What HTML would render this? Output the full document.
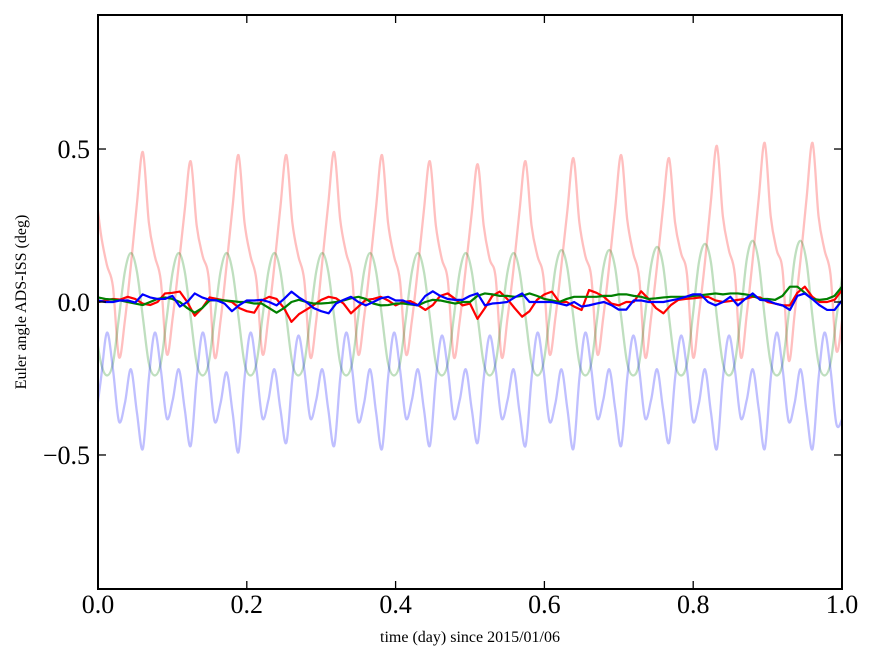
<!DOCTYPE html>
<html><head><meta charset="utf-8"><style>
html,body{margin:0;padding:0;background:#fff;}
svg{display:block;}
text{font-family:"Liberation Serif",serif;fill:#000;}
</style></head><body>
<svg id="chart" width="875" height="662" viewBox="0 0 875 662" xmlns="http://www.w3.org/2000/svg">
<defs><clipPath id="plotclip"><rect x="98" y="15" width="744" height="574"/></clipPath></defs>
<rect x="0" y="0" width="875" height="662" fill="#fff"/>
<g id="series" clip-path="url(#plotclip)"></g>
<g id="axes"></g>
<text x="470" y="642" font-size="16" text-anchor="middle">time (day) since 2015/01/06</text>
<text x="0" y="0" font-size="16" text-anchor="middle" transform="translate(26,302) rotate(-90)">Euler angle ADS-ISS (deg)</text>
</svg>
<script>
// ---- data ----
const xTicks = [0.0, 0.2, 0.4, 0.6, 0.8, 1.0];
const xTickLabels = ["0.0", "0.2", "0.4", "0.6", "0.8", "1.0"];
const yTicks = [-0.5, 0.0, 0.5];
const yTickLabels = ["\u22120.5", "0.0", "0.5"];
const lightStep = 0.008037;
const lightStart = -0.004;
const redLight = [
.38,.22,.12,.05,-.18,-.06,.12,.32,
.49,.26,.15,.07,-.17,-.05,.12,.30,
.46,.25,.15,.08,-.18,-.06,.12,.31,
.48,.26,.15,.07,-.17,-.05,.12,.31,
.48,.26,.15,.07,-.18,-.06,.13,.32,
.49,.27,.16,.08,-.17,-.05,.12,.31,
.48,.26,.15,.07,-.17,-.06,.11,.30,
.46,.25,.14,.07,-.18,-.06,.11,.29,
.45,.25,.14,.08,-.18,-.05,.11,.30,
.46,.25,.15,.08,-.17,-.05,.12,.30,
.47,.26,.15,.08,-.17,-.05,.12,.31,
.48,.27,.16,.08,-.18,-.05,.12,.31,
.47,.26,.16,.09,-.18,-.04,.13,.33,
.51,.28,.17,.09,-.18,-.04,.14,.34,
.52,.28,.17,.10,-.19,-.04,.14,.34,
.52,.28,.17,.09,-.16,-.05];
const greenLight = [
-.08,-.20,-.24,-.20,-.05,.10,.16,.10,
-.05,-.20,-.24,-.20,-.05,.10,.16,.10,
-.05,-.20,-.24,-.20,-.05,.10,.16,.10,
-.05,-.20,-.24,-.20,-.05,.10,.16,.10,
-.05,-.20,-.24,-.20,-.05,.10,.16,.10,
-.05,-.20,-.24,-.20,-.05,.10,.16,.10,
-.05,-.20,-.24,-.20,-.05,.10,.16,.10,
-.05,-.20,-.24,-.20,-.05,.10,.16,.10,
-.05,-.20,-.24,-.20,-.05,.10,.16,.10,
-.05,-.20,-.24,-.20,-.05,.11,.17,.11,
-.05,-.20,-.24,-.20,-.05,.11,.17,.11,
-.05,-.20,-.24,-.20,-.04,.12,.18,.12,
-.05,-.20,-.24,-.20,-.04,.13,.19,.13,
-.05,-.20,-.24,-.20,-.04,.14,.20,.13,
-.05,-.20,-.24,-.20,-.04,.14,.20,.13,
-.05,-.20,-.24,-.20,-.05,.09];
const blueLight = [
-.40,-.25,-.10,-.22,-.39,-.33,-.22,-.36,
-.48,-.25,-.10,-.22,-.38,-.32,-.22,-.35,
-.47,-.25,-.10,-.22,-.39,-.33,-.23,-.36,
-.49,-.25,-.10,-.22,-.38,-.32,-.22,-.35,
-.46,-.25,-.11,-.22,-.38,-.32,-.22,-.35,
-.47,-.25,-.10,-.22,-.39,-.33,-.22,-.36,
-.48,-.25,-.10,-.22,-.38,-.32,-.22,-.35,
-.47,-.25,-.11,-.22,-.38,-.32,-.22,-.35,
-.46,-.25,-.11,-.22,-.38,-.32,-.22,-.36,
-.47,-.25,-.10,-.22,-.39,-.33,-.22,-.35,
-.48,-.25,-.10,-.22,-.38,-.32,-.22,-.35,
-.47,-.25,-.11,-.22,-.38,-.32,-.22,-.35,
-.46,-.25,-.11,-.22,-.39,-.33,-.22,-.36,
-.48,-.25,-.11,-.22,-.38,-.32,-.22,-.35,
-.48,-.25,-.10,-.22,-.39,-.33,-.22,-.36,
-.48,-.25,-.10,-.22,-.40,-.38];
const darkStep = 0.01;
const redDark = [0,.005,.01,.008,.017,.01,-.005,-.01,0,.028,.03,.034,0,-.045,-.02,.015,.01,.005,0,-.02,-.03,-.035,.005,.017,.01,-.02,-.065,-.04,-.025,-.01,.007,.017,.012,-.005,-.037,-.015,.007,.01,.017,.005,-.011,0,.003,-.01,-.026,-.01,.02,.028,.01,-.011,-.005,-.055,-.02,.02,.034,.01,-.02,-.048,-.03,.007,.025,.034,0,0,-.015,-.026,.039,.03,.017,-.005,-.011,0,0,.035,.01,-.02,-.037,-.01,.007,.01,.012,.015,.017,.005,0,.003,.007,.01,.017,.015,0,-.005,-.011,-.011,.03,.05,.017,0,0,.007,.039];
const greenDark = [.015,.01,.008,.005,0,-.005,-.01,0,.01,.015,.01,0,-.02,-.035,-.02,.005,.007,.005,.003,0,0,-.005,-.005,-.02,-.035,-.02,0,.007,0,-.005,-.005,-.003,0,.005,.012,.017,.01,-.005,-.011,-.01,-.005,-.005,-.008,-.011,0,.007,.005,0,-.005,0,0,.02,.028,.025,.02,.02,.017,.02,.028,.02,.01,.005,0,.01,.017,.017,.017,.017,.02,.02,.025,.025,.02,.017,.01,.012,.015,.017,.017,.017,.02,.022,.025,.028,.025,.028,.028,.025,.02,.01,.01,.007,.02,.05,.05,.03,.01,.007,.01,.02,.05];
const blueDark = [.005,0,0,.005,.005,-.002,.025,.015,.01,.01,.02,-.015,0,.028,.015,.007,.005,-.005,-.03,-.01,.005,.005,.007,0,-.011,.01,.034,.015,0,-.02,-.03,-.037,-.005,.007,.017,0,-.011,0,.012,.017,.005,.005,-.005,-.011,.02,.035,.02,.01,.007,.007,.02,.028,-.011,-.005,-.003,0,.015,.028,0,0,0,0,-.005,-.011,0,-.015,-.011,-.005,0,-.01,-.025,-.025,.005,.005,0,0,0,.005,.01,.017,.025,.025,0,-.011,0,.017,-.011,.01,.028,.007,.005,-.005,-.011,-.026,.02,.028,.01,-.011,-.026,-.026,.005];

// ---- axes functions ----
const X0 = 98, X1 = 842, Y0 = 15, Y1 = 589;
const xMin = 0, xMax = 1, yMin = -0.938, yMax = 0.938;
function xScale(v){ return X0 + (v - xMin) / (xMax - xMin) * (X1 - X0); }
function yScale(v){ return Y1 - (v - yMin) / (yMax - yMin) * (Y1 - Y0); }
const NS = "http://www.w3.org/2000/svg";

function smoothPath(pts){
  let d = "M" + pts[0][0].toFixed(2) + "," + pts[0][1].toFixed(2);
  for (let i = 0; i < pts.length - 1; i++){
    const p0 = pts[Math.max(0, i-1)], p1 = pts[i], p2 = pts[i+1], p3 = pts[Math.min(pts.length-1, i+2)];
    const c1x = p1[0] + (p2[0]-p0[0])/6, c1y = p1[1] + (p2[1]-p0[1])/6;
    const c2x = p2[0] - (p3[0]-p1[0])/6, c2y = p2[1] - (p3[1]-p1[1])/6;
    d += " C" + c1x.toFixed(2) + "," + c1y.toFixed(2) + " " + c2x.toFixed(2) + "," + c2y.toFixed(2) + " " + p2[0].toFixed(2) + "," + p2[1].toFixed(2);
  }
  return d;
}
function polyPath(pts){
  return "M" + pts.map(p => p[0].toFixed(2) + "," + p[1].toFixed(2)).join(" L");
}
const seriesG = document.getElementById("series");
function drawSeries(values, start, step, color, width, opacity, smooth, name){
  const pts = values.map((v, i) => [xScale(start + i*step), yScale(v)]);
  const path = document.createElementNS(NS, "path");
  path.setAttribute("d", smooth ? smoothPath(pts) : polyPath(pts));
  path.setAttribute("fill", "none");
  path.setAttribute("stroke", color);
  path.setAttribute("stroke-width", width);
  path.setAttribute("stroke-opacity", opacity);
  path.setAttribute("stroke-linejoin", "round");
  
  
  seriesG.appendChild(path);
}
drawSeries(redLight, lightStart, lightStep, "#ff0000", 2.3, 0.25, true, "red-reference-line");
drawSeries(greenLight, lightStart, lightStep, "#008000", 2.3, 0.25, true, "green-reference-line");
drawSeries(blueLight, lightStart, lightStep, "#0000ff", 2.3, 0.25, true, "blue-reference-line");
drawSeries(redDark, 0, darkStep, "#ff0000", 2.2, 1, false, "red-difference-line");
drawSeries(greenDark, 0, darkStep, "#008000", 2.2, 1, false, "green-difference-line");
drawSeries(blueDark, 0, darkStep, "#0000ff", 2.2, 1, false, "blue-difference-line");

const axesG = document.getElementById("axes");
const frame = document.createElementNS(NS, "rect");
frame.setAttribute("x", X0); frame.setAttribute("y", Y0);
frame.setAttribute("width", X1 - X0); frame.setAttribute("height", Y1 - Y0);
frame.setAttribute("fill", "none"); frame.setAttribute("stroke", "#000"); frame.setAttribute("stroke-width", "2");


axesG.appendChild(frame);

function line(x1,y1,x2,y2,name){
  const l = document.createElementNS(NS, "line");
  l.setAttribute("x1", x1); l.setAttribute("y1", y1); l.setAttribute("x2", x2); l.setAttribute("y2", y2);
  l.setAttribute("stroke", "#000"); l.setAttribute("stroke-width", "1.3");
  
  
  axesG.appendChild(l);
}
function label(x,y,txt,anchor,name){
  const t = document.createElementNS(NS, "text");
  t.setAttribute("x", x); t.setAttribute("y", y);
  t.setAttribute("font-size", "26"); t.setAttribute("text-anchor", anchor);
  t.textContent = txt;
  
  
  axesG.appendChild(t);
}
xTicks.forEach((v, i) => {
  const x = xScale(v);
  line(x, Y1, x, Y1 - 8, "x-tick");
  line(x, Y0, x, Y0 + 8, "x-tick-top");
  label(x, 613, xTickLabels[i], "middle", "x-tick-label");
});
yTicks.forEach((v, i) => {
  const y = yScale(v);
  line(X0, y, X0 + 8, y, "y-tick");
  line(X1, y, X1 - 8, y, "y-tick-right");
  label(90, y + 9, yTickLabels[i], "end", "y-tick-label");
});
</script>
</body></html>
